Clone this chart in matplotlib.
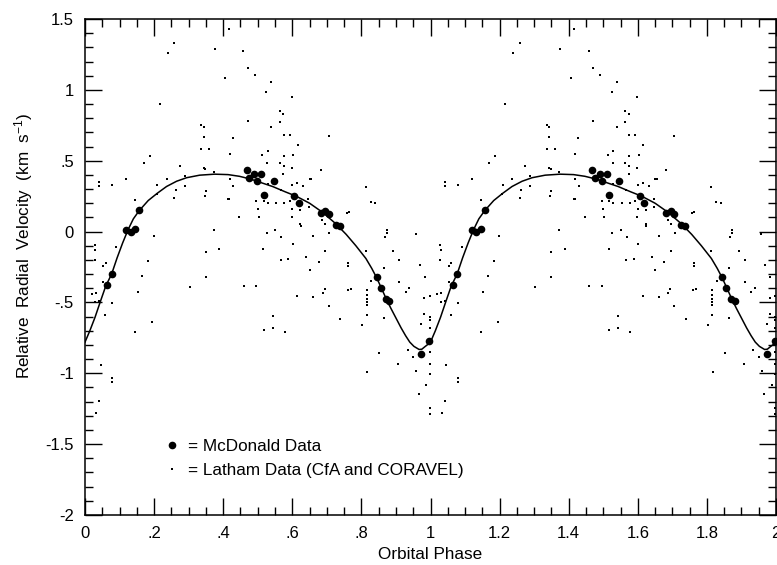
import numpy as np
import matplotlib
matplotlib.use("Agg")
import matplotlib.pyplot as plt
from matplotlib.ticker import MultipleLocator, FuncFormatter

plt.rcParams['font.family'] = ['Liberation Sans', 'DejaVu Sans']
plt.rcParams['mathtext.default'] = 'regular'

# McDonald data, one orbital cycle (phase, km/s)
mcd_phase = [0.064, 0.077, 0.120, 0.133, 0.145, 0.157, 0.468, 0.476, 0.490,
             0.497, 0.510, 0.517, 0.546, 0.606, 0.618, 0.683, 0.696, 0.705,
             0.726, 0.738, 0.845, 0.856, 0.871, 0.881, 0.973, 0.996]
mcd_vel = [-0.38, -0.30, 0.01, 0.00, 0.015, 0.15, 0.438, 0.377, 0.408,
           0.355, 0.405, 0.26, 0.355, 0.254, 0.20, 0.134, 0.143, 0.122,
           0.045, 0.040, -0.318, -0.40, -0.473, -0.488, -0.864, -0.77]

# Latham data (CfA and CORAVEL), one orbital cycle
lat_phase = [
    0.258, 0.240, 0.216, 0.187, 0.170, 0.274, 0.288, 0.041, 0.041, 0.079,
    0.119, 0.209, 0.236, 0.263, 0.288, 0.258, 0.208, 0.145,
    0.199, 0.028, 0.029, 0.091, 0.028, 0.060, 0.053, 0.183, 0.165, 0.053,
    0.303, 0.153, 0.031, 0.020, 0.029, 0.041, 0.079, 0.059, 0.194, 0.145,
    0.045, 0.079, 0.079, 0.041, 0.032, 0.372, 0.526, 0.551, 0.568, 0.624,
    0.660, 0.601, 0.350, 0.389, 0.516, 0.566, 0.589, 0.641, 0.650, 0.350,
    0.460, 0.496, 0.615, 0.661, 0.543, 0.517, 0.543, 0.578,
    0.416, 0.375, 0.458, 0.471, 0.492, 0.406, 0.539, 0.525, 0.599, 0.564,
    0.574, 0.471, 0.564, 0.337, 0.344, 0.539, 0.343, 0.428, 0.575, 0.592,
    0.616, 0.336, 0.360, 0.529, 0.419, 0.513, 0.575, 0.603, 0.528, 0.564,
    0.575, 0.598, 0.344, 0.348, 0.372, 0.574, 0.419, 0.650, 0.655, 0.429,
    0.529, 0.600, 0.614, 0.632, 0.349, 0.347, 0.566, 0.414, 0.418, 0.646,
    0.496, 0.529, 0.554, 0.577, 0.592, 0.517, 0.500, 0.647, 0.600, 0.623,
    0.447, 0.503, 0.599, 0.623,
    0.705, 0.683, 0.813, 0.827, 0.840, 0.758, 0.764, 0.686, 0.696, 0.958,
    0.874, 0.874, 0.867, 0.707, 0.813, 0.892, 0.910, 0.969, 0.864, 0.984,
    0.909, 0.938, 0.762, 0.762, 0.696, 0.676,
    0.829, 0.694, 0.688, 0.761, 0.769, 0.815, 0.815, 0.928, 0.982, 0.998,
    0.815, 0.815, 0.815, 0.705, 0.815, 0.864, 0.739, 0.803, 0.982, 0.998,
    0.998, 0.998, 0.973, 0.934, 0.851, 0.950, 0.998, 0.907, 0.998, 0.959,
    0.817, 0.998, 0.988, 0.966, 0.998, 0.998]
lat_vel = [
    1.333, 1.263, 0.898, 0.532, 0.481, 0.461, 0.391, 0.351, 0.323, 0.332,
    0.372, 0.332, 0.372, 0.29, 0.325, 0.24, 0.264, 0.224,
    -0.028, -0.092, -0.129, -0.106, -0.2, -0.221, -0.24, -0.21, -0.311, -0.353,
    -0.389, -0.424, -0.433, -0.44, -0.5, -0.488, -0.502, -0.587, -0.636, -0.707,
    -0.942, -1.034, -1.065, -1.194, -1.277, 0.012, -0.009, 0.012, -0.037, 0.04,
    -0.028, -0.09, -0.141, -0.122, -0.12, -0.2, -0.191, -0.179, -0.271, -0.323,
    -0.382, -0.382, -0.455, -0.464, -0.596, -0.698, -0.678, -0.709,
    1.432, 1.291, 1.272, 1.154, 1.107, 1.086, 1.055, 0.987, 0.947, 0.85,
    0.829, 0.782, 0.77, 0.749, 0.74, 0.74, 0.669, 0.659, 0.681, 0.681,
    0.61, 0.582, 0.582, 0.572, 0.549, 0.539, 0.532, 0.539, 0.483, 0.483,
    0.461, 0.452, 0.447, 0.44, 0.419, 0.403, 0.372, 0.37, 0.37, 0.323,
    0.334, 0.332, 0.344, 0.323, 0.283, 0.254, 0.29, 0.233, 0.233, 0.231,
    0.219, 0.2, 0.2, 0.2, 0.217, 0.214, 0.16, 0.172, 0.16, 0.153,
    0.101, 0.101, 0.101, 0.054,
    0.677, 0.438, 0.313, 0.212, 0.203, 0.132, 0.139, 0.085, 0.054, -0.016,
    0.012, -0.012, -0.04, -0.009, -0.136, -0.136, -0.198, -0.238, -0.259, -0.32,
    -0.358, -0.398, -0.219, -0.24, -0.139, -0.212,
    -0.351, -0.403, -0.43, -0.415, -0.405, -0.412, -0.45, -0.426, -0.469, -0.458,
    -0.473, -0.497, -0.516, -0.525, -0.587, -0.608, -0.62, -0.657, -0.582, -0.606,
    -0.624, -0.68, -0.652, -0.839, -0.86, -0.888, -0.848, -0.931, -0.931, -0.982,
    -0.992, -1.003, -1.081, -1.143, -1.246, -1.284]

# orbit solution curve
fit_phase = [0.000, 0.014, 0.029, 0.045, 0.060, 0.077, 0.093, 0.109, 0.125,
             0.140, 0.157, 0.183, 0.209, 0.236, 0.265, 0.294, 0.332, 0.375,
             0.414, 0.447, 0.480, 0.510, 0.543, 0.580, 0.611, 0.650, 0.688,
             0.726, 0.756, 0.784, 0.813, 0.830, 0.845, 0.858, 0.871, 0.885,
             0.900, 0.915, 0.928, 0.940, 0.952, 0.967, 0.975, 0.985, 0.993,
             1.000]
fit_vel = [-0.78, -0.70, -0.605, -0.49, -0.385, -0.30, -0.185, -0.08, 0.015,
           0.09, 0.148, 0.219, 0.27, 0.318, 0.355, 0.38, 0.398, 0.405,
           0.402, 0.39, 0.37, 0.345, 0.318, 0.28, 0.25, 0.20, 0.135,
           0.055, -0.02, -0.10, -0.19, -0.26, -0.33, -0.40, -0.47, -0.54,
           -0.61, -0.68, -0.735, -0.78, -0.81, -0.832, -0.83, -0.81, -0.795,
           -0.78]

x_ticks = np.arange(0, 2.01, 0.2)
y_ticks = np.arange(-2, 1.51, 0.5)


def strip_zero(v, pos):
    s = f"{v:g}"
    if s == "-0":
        s = "0"
    return s.replace("0.", ".") if s.startswith(("0.", "-0.")) else s


fig = plt.figure(figsize=(7.77, 5.65), dpi=100)
ax = fig.add_axes([85 / 777, 50 / 565, 691 / 777, 496 / 565])

fp = np.array(fit_phase)
ax.plot(np.concatenate([fp, fp + 1]), fit_vel * 2, color='black', lw=1.1)

lp = np.array(lat_phase)
ax.plot(np.concatenate([lp, lp + 1]), lat_vel * 2, ls='none', marker='s',
        ms=1.9, mew=0, color='black', label='= Latham Data (CfA and CORAVEL)')
mp = np.array(mcd_phase)
ax.plot(np.concatenate([mp, mp + 1]), mcd_vel * 2, ls='none', marker='o',
        ms=5.5, mew=0, color='black', label='= McDonald Data')

ax.set_xlim(0, 2)
ax.set_ylim(-2, 1.5)
ax.set_xticks(x_ticks)
ax.set_yticks(y_ticks)
ax.xaxis.set_minor_locator(MultipleLocator(0.05))
ax.yaxis.set_minor_locator(MultipleLocator(0.1))
ax.xaxis.set_major_formatter(FuncFormatter(strip_zero))
ax.yaxis.set_major_formatter(FuncFormatter(strip_zero))
ax.tick_params(which='both', direction='in', top=True, right=True,
               labelsize=12, width=1.0, color='black')
ax.tick_params(which='major', length=12, pad=8)
ax.tick_params(which='minor', length=6)
for sp in ax.spines.values():
    sp.set_linewidth(1.1)

ax.set_xlabel('Orbital Phase', fontsize=12.3)
ax.set_ylabel('Relative  Radial  Velocity  (km  s$^{-1}$)', fontsize=12.3)
ax.xaxis.set_label_coords(0.5, -0.064)
ax.yaxis.set_label_coords(-0.073, 0.542)

h, l = ax.get_legend_handles_labels()
ax.legend(h[::-1], l[::-1], loc='center left', bbox_to_anchor=(0.114, 0.114),
          frameon=False, fontsize=12.3, handlelength=1.0, handletextpad=0.44,
          borderpad=0, borderaxespad=0, labelspacing=0.5)

fig.savefig('out.png', dpi=100)
